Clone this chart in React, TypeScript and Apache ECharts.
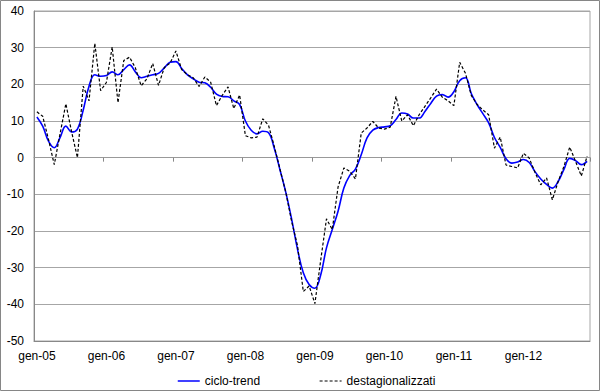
import React, { useEffect, useRef } from "react";
import * as echarts from "echarts";

const months = ["gen", "feb", "mar", "apr", "mag", "giu", "lug", "ago", "set", "ott", "nov", "dic"];
const years = ["05", "06", "07", "08", "09", "10", "11", "12"];
const categories = years.flatMap((y) => months.map((m) => `${m}-${y}`));

const yTicks = { min: -50, max: 40, interval: 10 };

const cicloTrend = [
  11.1, 8.6, 4.5, 2.7, 5.5, 8.6, 7, 7.8, 13, 19.5, 22.6, 22.2,
  22.4, 23.4, 22.6, 24, 25.3, 23.4, 21.8, 22.2, 22.6, 23, 24.5, 26,
  26.2, 24.3, 22.6, 21.5, 20.6, 20.4, 19.2, 17.3, 16.7, 16.6, 15.5, 14.5,
  10, 7.5, 6.5, 7.2, 6.8, 2.5, -3.5, -9.6, -16.9, -25, -31.4, -34.6,
  -35.6, -32, -24.6, -19.6, -14.6, -8.3, -4.9, -3.1, 0.8, 5.4, 7.5, 8.2,
  8.4, 8.7, 10.4, 12.2, 11.9, 10.8, 10.8, 12.6, 14.8, 16.8, 17.2, 16.5,
  18, 21, 21.8, 17.5, 14.5, 12, 9.5, 5.5, 2.8, -0.3, -1.5, -1.2,
  -0.5, -1.3, -3.8, -5.8, -7.3, -8.3, -6.5, -3.2, -0.2, -0.8, -1.9, -1,
];

const destagionalizzati = [
  12.5, 11.3, 5, -1.9, 6.5, 14.7, 7, 0, 19.5, 15.5, 31.2, 18.3,
  20.5, 30.2, 15, 26.5, 27.4, 24.5, 19.6, 21.5, 25.7, 19.7, 24.6, 25.8,
  29.1, 24, 22.6, 21.8, 19.4, 22, 20.6, 14.2, 17, 19.3, 13.4, 17.1,
  6, 5.4, 5.6, 10.6, 8.8, 3, -3.3, -9.6, -17.5, -24, -36.5, -35,
  -39.8, -28, -16.7, -19.6, -8, -2.8, -3.7, -5.8, 6.7, 8.1, 9.9, 8.1,
  7.8, 8.3, 16.7, 10, 11.7, 8.7, 11.7, 14, 16.3, 18.7, 16.5, 15.5,
  14.2, 26, 23, 17, 14.5, 13, 11.7, 2.6, 5.6, -2, -2.4, -2.8,
  1.2, -0.1, -4, -7.4, -5.5, -11.5, -6.5, -2.4, 2.9, -1, -5, 0.4,
];

const FONT = "'Liberation Sans', Arial, sans-serif";

export default function App() {
  const ref = useRef<HTMLDivElement>(null);
  useEffect(() => {
    if (!ref.current) return;
    const chart = echarts.init(ref.current, null, { renderer: "svg" });
    chart.setOption({
      animation: false,
      backgroundColor: "#fff",
      textStyle: { fontFamily: FONT },
      graphic: [
        {
          type: "rect",
          shape: { x: 0.5, y: 0.5, width: 599, height: 390 },
          style: { fill: "none", stroke: "#868686", lineWidth: 1 },
          silent: true,
        },
      ],
      grid: {
        left: 34,
        right: 10,
        top: 11,
        bottom: 51,
        show: true,
        borderColor: "#a6a6a6",
        borderWidth: 1,
      },
      legend: {
        data: [
          { name: "ciclo-trend", lineStyle: { width: 1.5 } },
          { name: "destagionalizzati", lineStyle: { width: 1 } },
        ],
        left: 172,
        top: 370,
        itemWidth: 22,
        itemHeight: 10,
        itemGap: 59,
        itemStyle: { opacity: 0 },
        textStyle: { fontSize: 12, color: "#000", fontFamily: FONT },
      },
      xAxis: [
        {
          type: "category",
          data: categories,
          boundaryGap: true,
          position: "bottom",
          axisLine: { show: true, onZero: false, lineStyle: { color: "#888" } },
          axisTick: { show: false },
          axisLabel: { interval: 11, fontSize: 12, color: "#000", margin: 9, fontFamily: FONT },
          splitLine: { show: false },
        },
        {
          type: "category",
          data: categories,
          boundaryGap: true,
          position: "bottom",
          axisLine: { show: true, onZero: true, lineStyle: { color: "#999" } },
          axisTick: { show: true, interval: 11, length: 4, lineStyle: { color: "#888" } },
          axisLabel: { show: false },
          splitLine: { show: false },
        },
      ],
      yAxis: {
        type: "value",
        min: yTicks.min,
        max: yTicks.max,
        interval: yTicks.interval,
        axisLine: { show: true, lineStyle: { color: "#888" } },
        axisTick: { show: false },
        axisLabel: { fontSize: 12, color: "#000", margin: 10, fontFamily: FONT },
        splitLine: { show: true, lineStyle: { color: "#a6a6a6", width: 1 } },
      },
      series: [
        {
          name: "ciclo-trend",
          type: "line",
          xAxisIndex: 0,
          data: cicloTrend,
          smooth: 0.4,
          symbol: "none",
          lineStyle: { color: "#0000ff", width: 1.6 },
          itemStyle: { color: "#0000ff" },
        },
        {
          name: "destagionalizzati",
          type: "line",
          xAxisIndex: 0,
          data: destagionalizzati,
          symbol: "none",
          lineStyle: { color: "#000", width: 1.2, type: [3, 2] },
          itemStyle: { color: "#000" },
        },
      ],
    });
    return () => chart.dispose();
  }, []);
  return (
    <div
      ref={ref}
      style={{ position: "absolute", left: 0, top: 0, width: 600, height: 392 }}
    />
  );
}
